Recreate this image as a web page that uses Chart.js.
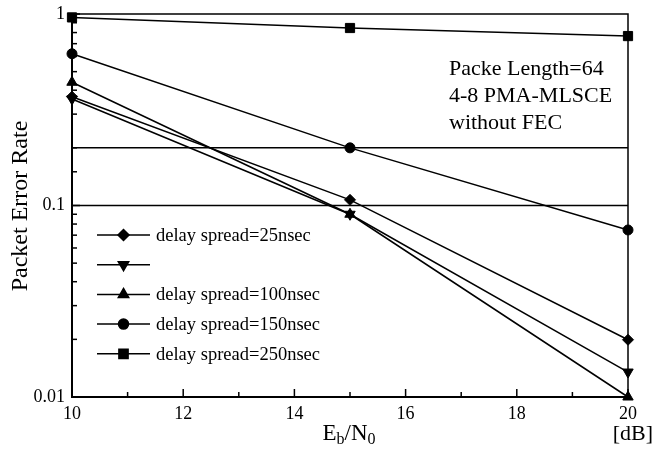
<!DOCTYPE html>
<html>
<head>
<meta charset="utf-8">
<script src="https://cdn.jsdelivr.net/npm/chart.js@4/dist/chart.umd.min.js"></script>
<style>
  body { margin: 0; background: #fff; }
  #wrap { width: 668px; height: 456px; }
</style>
</head>
<body>
<div id="wrap"><canvas id="chart" width="668" height="456"></canvas></div>
<script>
// Data
const ebnoValues = [10, 15, 20];
const seriesLabels = ['delay spread=25nsec', '', 'delay spread=100nsec', 'delay spread=150nsec', 'delay spread=250nsec'];
const per25 = [0.37, 0.107, 0.0199];
const perUnlabeled = [0.36, 0.09, 0.0135];
const per100 = [0.44, 0.09, 0.01];
const per150 = [0.62, 0.2, 0.0745];
const per250 = [0.96, 0.845, 0.767];
const refLevels = [0.2, 0.1];
const xTickLabels = [10, 12, 14, 16, 18, 20];
const yTickLabels = [0.01, 0.1, 1];
const noteLines = ['Packe Length=64', '4-8 PMA-MLSCE', 'without FEC'];

const FONT = '"Liberation Serif", "Times New Roman", serif';

// marker styles per series
const markers = [
  { pointStyle: 'rectRot', radius: 5.5, rotation: 0 },
  { pointStyle: 'triangle', radius: 6, rotation: 180 },
  { pointStyle: 'triangle', radius: 6, rotation: 0 },
  { pointStyle: 'circle', radius: 5, rotation: 0 },
  { pointStyle: 'rect', radius: 6.5, rotation: 0 }
];
const seriesValues = [per25, perUnlabeled, per100, per150, per250];

const datasets = seriesValues.map((vals, i) => ({
  label: seriesLabels[i],
  data: vals.map((v, j) => ({ x: ebnoValues[j], y: v })),
  borderColor: '#000',
  borderWidth: 1.5,
  backgroundColor: '#000',
  pointBackgroundColor: '#000',
  pointBorderColor: '#000',
  pointBorderWidth: 1,
  pointStyle: markers[i].pointStyle,
  pointRadius: markers[i].radius,
  pointRotation: markers[i].rotation,
  pointHoverRadius: markers[i].radius,
  clip: false
}));

// horizontal reference lines
refLevels.forEach(level => {
  datasets.push({
    label: '',
    data: [{ x: xTickLabels[0], y: level }, { x: xTickLabels[xTickLabels.length - 1], y: level }],
    borderColor: '#000',
    borderWidth: 1.5,
    pointRadius: 0,
    clip: false
  });
});

// frame, inward ticks, legend, titles and note
const decorations = {
  id: 'decorations',
  afterDraw(chart) {
    const ctx = chart.ctx;
    const area = chart.chartArea;
    const xs = chart.scales.x;
    const ys = chart.scales.y;
    ctx.save();
    ctx.strokeStyle = '#000';
    ctx.fillStyle = '#000';

    // frame
    ctx.lineWidth = 1.5;
    ctx.beginPath();
    ctx.moveTo(area.left, area.top);
    ctx.lineTo(area.right, area.top);
    ctx.lineTo(area.right, area.bottom);
    ctx.stroke();
    ctx.lineWidth = 2;
    ctx.beginPath();
    ctx.moveTo(area.left, area.top);
    ctx.lineTo(area.left, area.bottom);
    ctx.lineTo(area.right, area.bottom);
    ctx.stroke();

    // ticks pointing inside
    ctx.lineWidth = 1.5;
    ys.ticks.forEach(t => {
      const y = ys.getPixelForValue(t.value);
      const major = yTickLabels.some(v => Math.abs(v - t.value) / v < 1e-6);
      ctx.beginPath();
      ctx.moveTo(area.left, y);
      ctx.lineTo(area.left + (major ? 8 : 5), y);
      ctx.stroke();
    });
    xs.ticks.forEach(t => {
      const x = xs.getPixelForValue(t.value);
      const major = xTickLabels.includes(t.value);
      ctx.beginPath();
      ctx.moveTo(x, area.bottom);
      ctx.lineTo(x, area.bottom - (major ? 8 : 5));
      ctx.stroke();
    });

    // legend
    ctx.textBaseline = 'middle';
    ctx.textAlign = 'left';
    ctx.font = '18.5px ' + FONT;
    seriesLabels.forEach((label, i) => {
      const y = 235 + i * 29.7;
      ctx.lineWidth = 1.5;
      ctx.beginPath();
      ctx.moveTo(97, y);
      ctx.lineTo(150, y);
      ctx.stroke();
      Chart.helpers.drawPoint(ctx, {
        pointStyle: markers[i].pointStyle,
        radius: markers[i].radius,
        rotation: markers[i].rotation,
        borderWidth: 1
      }, 123.5, y);
      ctx.fillText(label, 156, y + 1);
    });

    // note text
    ctx.font = '22px ' + FONT;
    noteLines.forEach((line, i) => {
      ctx.fillText(line, 449, 69 + i * 27);
    });

    // y title
    ctx.save();
    ctx.translate(21, 206);
    ctx.rotate(-Math.PI / 2);
    ctx.textAlign = 'center';
    ctx.font = '24px ' + FONT;
    ctx.fillText('Packet Error Rate', 0, 0);
    ctx.restore();

    // x title E_b/N_0
    const big = '23px ' + FONT;
    const small = '16px ' + FONT;
    const parts = [['E', big, 0], ['b', small, 6], ['/N', big, 0], ['0', small, 6]];
    let total = 0;
    parts.forEach(p => { ctx.font = p[1]; total += ctx.measureText(p[0]).width; });
    let x = 349 - total / 2;
    parts.forEach(p => {
      ctx.font = p[1];
      ctx.fillText(p[0], x, 434 + p[2]);
      x += ctx.measureText(p[0]).width;
    });

    ctx.font = '22px ' + FONT;
    ctx.textAlign = 'right';
    ctx.fillText('[dB]', 653, 434);
    ctx.restore();
  }
};

new Chart(document.getElementById('chart'), {
  type: 'line',
  data: { datasets },
  options: {
    responsive: false,
    animation: false,
    events: [],
    layout: { padding: { top: 14, right: 40, left: 0, bottom: 0 } },
    plugins: { legend: { display: false }, tooltip: { enabled: false } },
    scales: {
      x: {
        type: 'linear',
        min: 10,
        max: 20,
        afterFit: s => { s.height = 59; s.paddingLeft = 0; s.paddingRight = 0; },
        grid: { display: false, drawTicks: false },
        border: { display: false },
        ticks: {
          stepSize: 1,
          autoSkip: false,
          maxRotation: 0,
          padding: 6,
          color: '#000',
          font: { family: FONT, size: 18 },
          callback: v => xTickLabels.includes(v) ? String(v) : ''
        }
      },
      y: {
        type: 'logarithmic',
        min: 0.01,
        max: 1,
        afterFit: s => { s.width = 72; s.paddingTop = 0; s.paddingBottom = 0; },
        grid: { display: false, drawTicks: false },
        border: { display: false },
        ticks: {
          autoSkip: false,
          padding: 7,
          color: '#000',
          font: { family: FONT, size: 18 },
          callback: v => {
            const t = yTickLabels.find(k => Math.abs(k - v) / k < 1e-6);
            return t === undefined ? '' : String(t);
          }
        }
      }
    }
  },
  plugins: [decorations]
});
</script>
</body>
</html>
